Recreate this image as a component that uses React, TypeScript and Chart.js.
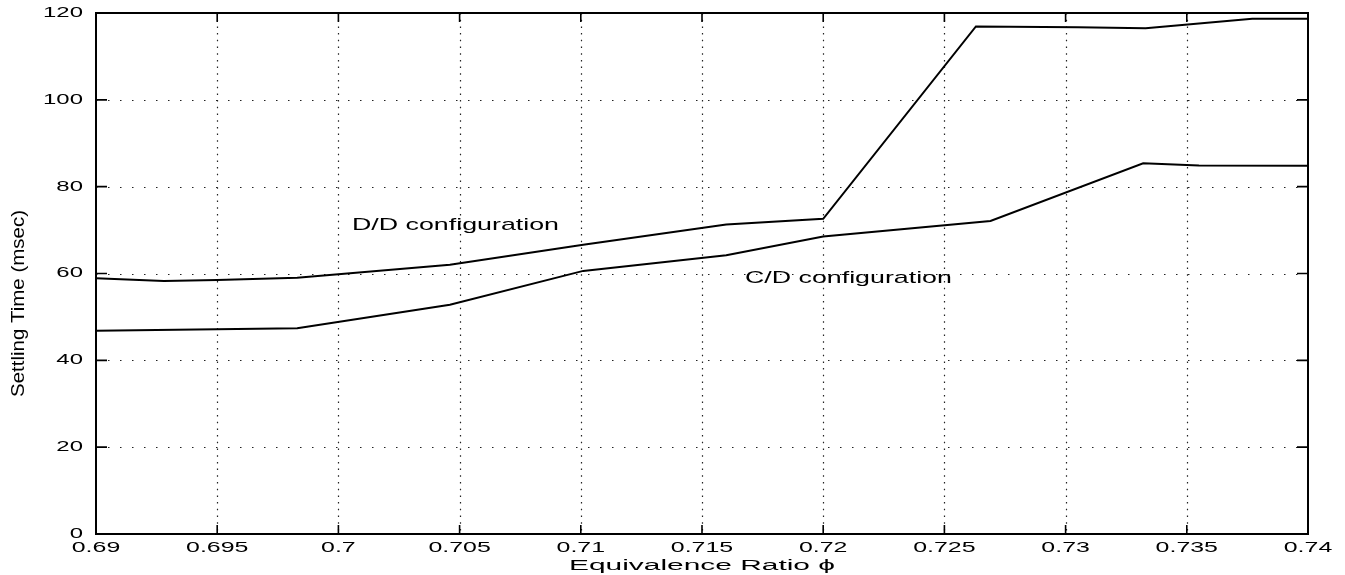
import React, { useEffect, useRef } from 'react';
import { Chart, registerables } from 'chart.js';

Chart.register(...registerables);

// ---- data ----
const xTickValues = [0.69, 0.695, 0.7, 0.705, 0.71, 0.715, 0.72, 0.725, 0.73, 0.735, 0.74];
const xTickLabels = ['0.69', '0.695', '0.7', '0.705', '0.71', '0.715', '0.72', '0.725', '0.73', '0.735', '0.74'];
const yTickValues = [0, 20, 40, 60, 80, 100, 120];
const yTickLabels = ['0', '20', '40', '60', '80', '100', '120'];

const ddPhi = [0.69, 0.6928, 0.695, 0.6983, 0.7046, 0.7101, 0.716, 0.72, 0.7263, 0.7305, 0.7333, 0.7377, 0.74];
const ddTime = [58.9, 58.3, 58.5, 59.0, 62.0, 66.6, 71.3, 72.6, 116.9, 116.7, 116.5, 118.7, 118.7];

const cdPhi = [0.69, 0.6983, 0.7046, 0.7101, 0.716, 0.72, 0.7269, 0.7332, 0.7355, 0.74];
const cdTime = [46.8, 47.4, 52.8, 60.6, 64.2, 68.5, 72.1, 85.4, 84.9, 84.8];

const noteTexts = ['D/D configuration', 'C/D configuration'];
const notePhi = [0.70056, 0.71677];
const noteTime = [71.0, 58.8];

const xTitle = 'Equivalence Ratio \u03d5';
const yTitle = 'Settling Time (msec)';

const FONT = '"Liberation Sans", Arial, Helvetica, "DejaVu Sans", sans-serif';

function stretchText(ctx: CanvasRenderingContext2D, text: string, x: number, y: number, sx: number, align: CanvasTextAlign) {
  ctx.save();
  ctx.translate(x, y);
  ctx.scale(sx, 1);
  ctx.textAlign = align;
  ctx.textBaseline = 'middle';
  ctx.fillText(text, 0, 0);
  ctx.restore();
}

const framePlugin = {
  id: 'matlabFrame',
  beforeDatasetsDraw(chart: any) {
    const { ctx, chartArea } = chart;
    const xs = chart.scales.x;
    const ys = chart.scales.y;
    const { left, right, top, bottom } = chartArea;
    ctx.save();
    ctx.strokeStyle = '#222';
    ctx.lineWidth = 1.2;
    ctx.setLineDash([1.5, 10.5]);
    yTickValues.forEach((v) => {
      if (v === 0 || v === 120) return;
      const py = Math.round(ys.getPixelForValue(v)) + 0.5;
      ctx.beginPath();
      ctx.moveTo(left, py);
      ctx.lineTo(right, py);
      ctx.stroke();
    });
    ctx.setLineDash([1.5, 5.2]);
    xTickValues.forEach((v, i) => {
      if (i === 0 || i === xTickValues.length - 1) return;
      const px = Math.round(xs.getPixelForValue(v)) + 0.5;
      ctx.beginPath();
      ctx.moveTo(px, top);
      ctx.lineTo(px, bottom);
      ctx.stroke();
    });
    ctx.restore();
  },
  afterDatasetsDraw(chart: any) {
    const { ctx, chartArea } = chart;
    const xs = chart.scales.x;
    const ys = chart.scales.y;
    const { left, right, top, bottom } = chartArea;
    ctx.save();
    ctx.setLineDash([]);
    ctx.strokeStyle = '#000';
    ctx.lineWidth = 2;
    ctx.strokeRect(left, top, right - left, bottom - top);
    ctx.lineWidth = 1.6;
    yTickValues.forEach((v) => {
      const py = ys.getPixelForValue(v);
      ctx.beginPath();
      ctx.moveTo(left, py);
      ctx.lineTo(left + 11, py);
      ctx.moveTo(right, py);
      ctx.lineTo(right - 11, py);
      ctx.stroke();
    });
    xTickValues.forEach((v) => {
      const px = xs.getPixelForValue(v);
      ctx.beginPath();
      ctx.moveTo(px, bottom);
      ctx.lineTo(px, bottom - 9);
      ctx.moveTo(px, top);
      ctx.lineTo(px, top + 9);
      ctx.stroke();
    });
    ctx.fillStyle = '#000';
    ctx.font = `14px ${FONT}`;
    yTickValues.forEach((v, i) => {
      stretchText(ctx, yTickLabels[i], left - 13, ys.getPixelForValue(v), 1.71, 'right');
    });
    xTickValues.forEach((v, i) => {
      stretchText(ctx, xTickLabels[i], xs.getPixelForValue(v), bottom + 14, 1.78, 'center');
    });
    ctx.font = `14px ${FONT}`;
    const wx = ctx.measureText(xTitle).width;
    stretchText(ctx, xTitle, (left + right) / 2, bottom + 32, 266 / wx, 'center');
    ctx.font = `18px ${FONT}`;
    const wy = ctx.measureText(yTitle).width;
    ctx.save();
    ctx.translate(19, (top + bottom) / 2 + 30);
    ctx.rotate(-Math.PI / 2);
    stretchText(ctx, yTitle, 0, 0, 187 / wy, 'center');
    ctx.restore();
    ctx.font = `17px ${FONT}`;
    noteTexts.forEach((t, i) => {
      const w = ctx.measureText(t).width;
      stretchText(ctx, t, xs.getPixelForValue(notePhi[i]), ys.getPixelForValue(noteTime[i]), 207 / w, 'left');
    });
    ctx.restore();
  },
};

export default function App() {
  const ref = useRef<HTMLCanvasElement>(null);
  useEffect(() => {
    if (!ref.current) return;
    const chart = new Chart(ref.current, {
      type: 'line',
      data: {
        datasets: [
          {
            label: 'D/D configuration',
            data: ddPhi.map((x, i) => ({ x, y: ddTime[i] })),
            borderColor: '#000',
            borderWidth: 2,
            pointRadius: 0,
            tension: 0,
            fill: false,
          },
          {
            label: 'C/D configuration',
            data: cdPhi.map((x, i) => ({ x, y: cdTime[i] })),
            borderColor: '#000',
            borderWidth: 2,
            pointRadius: 0,
            tension: 0,
            fill: false,
          },
        ],
      },
      options: {
        responsive: false,
        animation: false,
        devicePixelRatio: 1,
        layout: { padding: { top: 13, right: 37, left: 0, bottom: 0 } },
        plugins: { legend: { display: false }, tooltip: { enabled: false }, title: { display: false } },
        scales: {
          x: {
            type: 'linear',
            min: 0.69,
            max: 0.74,
            ticks: { display: false },
            grid: { display: false },
            border: { display: false },
            afterFit: (s: any) => { s.height = 41; },
          },
          y: {
            type: 'linear',
            min: 0,
            max: 120,
            ticks: { display: false },
            grid: { display: false },
            border: { display: false },
            afterFit: (s: any) => { s.width = 96; },
          },
        },
      },
      plugins: [framePlugin],
    });
    return () => chart.destroy();
  }, []);
  return (
    <div style={{ position: 'absolute', left: 0, top: 0, width: 1345, height: 575, background: '#fff' }}>
      <canvas ref={ref} width={1345} height={575} />
    </div>
  );
}
